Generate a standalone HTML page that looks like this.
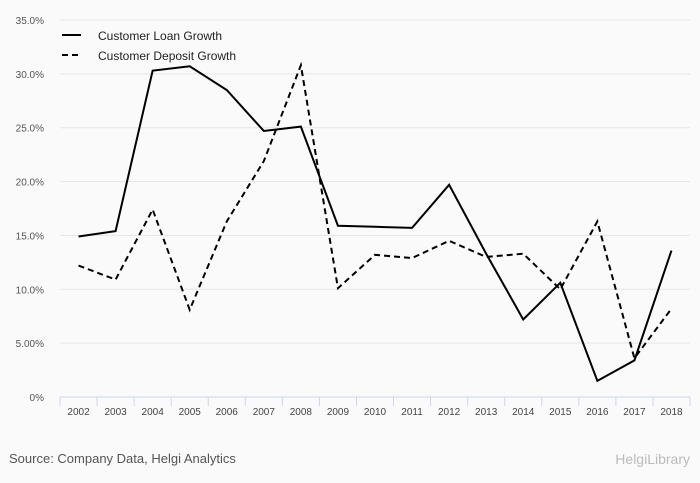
<!DOCTYPE html>
<html><head><meta charset="utf-8"><style>
body{margin:0;background:#fafafa;font-family:"Liberation Sans",sans-serif;}
svg{display:block}
</style></head><body>
<svg id="chart" width="700" height="483">
<rect width="700" height="483" fill="#fafafa"/>
<g id="grid"></g><g id="xaxis"></g><g id="series"></g>
<g>
<line x1="62" y1="35" x2="81" y2="35" stroke="#000" stroke-width="2"/>
<text x="98" y="40" font-size="12" fill="#222">Customer Loan Growth</text>
<line x1="62" y1="55" x2="81" y2="55" stroke="#000" stroke-width="2" stroke-dasharray="6,4"/>
<text x="98" y="60" font-size="12" fill="#222">Customer Deposit Growth</text>
</g>
<text x="9" y="463" font-size="13" fill="#555">Source: Company Data, Helgi Analytics</text>
<text x="690" y="464" font-size="14" fill="#bbb" text-anchor="end">HelgiLibrary</text>
</svg>
<script>
const years=["2002","2003","2004","2005","2006","2007","2008","2009","2010","2011","2012","2013","2014","2015","2016","2017","2018"];
const loanGrowth=[14.9,15.4,30.3,30.7,28.5,24.7,25.1,15.9,15.8,15.7,19.7,13.3,7.2,10.6,1.5,3.4,13.6];
const depositGrowth=[12.2,10.9,17.4,8.1,16.3,21.9,30.8,10.1,13.2,12.9,14.5,13.0,13.3,10.0,16.3,3.6,8.2];
const yTicks=[0,5,10,15,20,25,30,35];
const yTickLabels=["0%","5.00%","10.0%","15.0%","20.0%","25.0%","30.0%","35.0%"];
const NS="http://www.w3.org/2000/svg";
const x0=60,x1=690,y0=397,y1=20;
const bw=(x1-x0)/years.length;
const xs=i=>x0+bw*(i+0.5);
const ys=v=>y0-(v/35)*(y0-y1);
function mk(t,a,p){const e=document.createElementNS(NS,t);for(const k in a)e.setAttribute(k,a[k]);p.appendChild(e);return e;}
const grid=document.getElementById('grid');
yTicks.forEach((v,i)=>{
 if(v>0){const l=mk('line',{x1:x0,x2:x1,y1:ys(v),y2:ys(v),stroke:'#e6e6e6','stroke-width':1},grid);
 
 }
 const t=mk('text',{x:44,y:ys(v)+4,'font-size':10,fill:'#555','text-anchor':'end'},grid);
 t.textContent=yTickLabels[i];
 
 
});
const xa=document.getElementById('xaxis');
const al=mk('line',{x1:x0,x2:x1,y1:y0,y2:y0,stroke:'#ccd6eb','stroke-width':1},xa);


years.forEach((y,i)=>{
 const tk=mk('line',{x1:x0+bw*i,x2:x0+bw*i,y1:y0,y2:y0+9,stroke:'#ccd6eb'},xa);
 
 
 const t=mk('text',{x:xs(i),y:y0+18,'font-size':10,fill:'#444','text-anchor':'middle'},xa);
 t.textContent=y;
 
 
});
const tk=mk('line',{x1:x1,x2:x1,y1:y0,y2:y0+9,stroke:'#ccd6eb'},xa);


const sg=document.getElementById('series');
const p1=mk('path',{d:loanGrowth.map((v,i)=>(i?'L':'M')+xs(i)+','+ys(v)).join(''),fill:'none',stroke:'#000','stroke-width':2},sg);


const p2=mk('path',{d:depositGrowth.map((v,i)=>(i?'L':'M')+xs(i)+','+ys(v)).join(''),fill:'none',stroke:'#000','stroke-width':2,'stroke-dasharray':'6,4'},sg);


</script>
</body></html>
